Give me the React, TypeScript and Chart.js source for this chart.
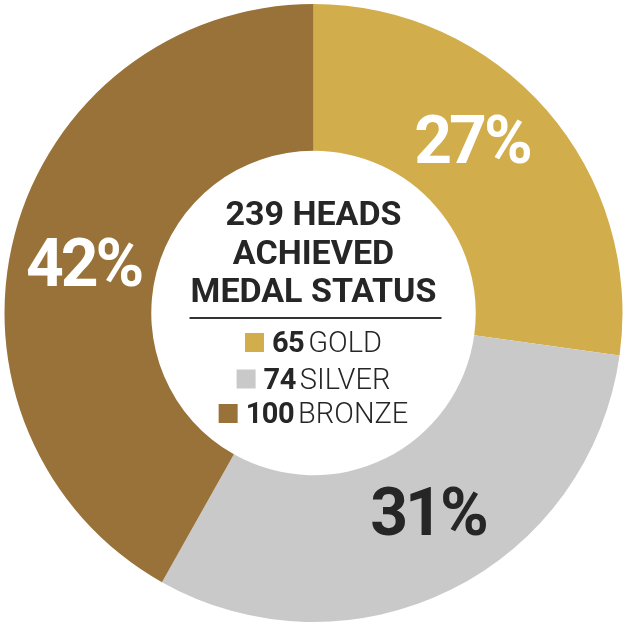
import React, { useEffect, useRef } from "react";
import { Chart, registerables } from "chart.js";

Chart.register(...registerables);

// Medal counts
const categories = ["GOLD", "SILVER", "BRONZE"];
const medalCounts = [65, 74, 100];
const percentLabels = ["27%", "31%", "42%"];
const headingLines = ["239 HEADS", "ACHIEVED", "MEDAL STATUS"];

// Styling
const sliceColors = ["#D2AD4B", "#C9C9C9", "#987239"];
const percentColors = ["#FFFFFF", "#262626", "#FFFFFF"];
// small angular (degrees) / radial nudges for the percentage labels
const labelAngleNudge = [-6.7, -3.7, -2];
const labelRadiusNudge = [0, -7, 0];

const TEXT_DARK = "#262626";

const centerTextPlugin = {
  id: "centerText",
  afterDatasetsDraw(chart: any) {
    const ctx: CanvasRenderingContext2D = chart.ctx;
    const meta = chart.getDatasetMeta(0);
    const arcs = meta.data;
    if (!arcs.length) return;
    const cx = arcs[0].x;
    const cy = arcs[0].y;

    ctx.save();
    // percentage labels inside the ring
    arcs.forEach((arc: any, i: number) => {
      const mid = (arc.startAngle + arc.endAngle) / 2 + (labelAngleNudge[i] * Math.PI) / 180;
      const r = (arc.innerRadius + arc.outerRadius) / 2 + labelRadiusNudge[i];
      const x = arc.x + Math.cos(mid) * r;
      const y = arc.y + Math.sin(mid) * r;
      ctx.font = "bold 66px Roboto";
      (ctx as any).letterSpacing = "-3px";
      ctx.fillStyle = percentColors[i];
      ctx.textAlign = "center";
      ctx.textBaseline = "alphabetic";
      const m = ctx.measureText(percentLabels[i]);
      const h = m.actualBoundingBoxAscent;
      ctx.fillText(percentLabels[i], x, y + h / 2);
    });

    // heading
    (ctx as any).letterSpacing = "0px";
    ctx.font = "bold 34px Roboto";
    ctx.fillStyle = TEXT_DARK;
    ctx.textAlign = "center";
    const baselines = [-88, -49.5, -11];
    headingLines.forEach((t, i) => ctx.fillText(t, cx, cy + baselines[i]));

    // rule
    ctx.strokeStyle = "#333333";
    ctx.lineWidth = 2;
    ctx.beginPath();
    ctx.moveTo(cx - 124, cy + 5);
    ctx.lineTo(cx + 128, cy + 5);
    ctx.stroke();

    // legend rows
    const rowBase = [39, 75.5, 110];
    const sq = 19;
    const numFont = "bold 29px Roboto";
    const wordFont = "300 29px Roboto";
    categories.forEach((cat, i) => {
      const num = String(medalCounts[i]);
      ctx.font = numFont;
      (ctx as any).letterSpacing = "-0.5px";
      const nw = ctx.measureText(num).width;
      ctx.font = wordFont;
      (ctx as any).letterSpacing = "0px";
      const ww = ctx.measureText(cat).width;
      const total = sq + 8 + nw + 4 + ww;
      let x = cx - total / 2;
      const by = cy + rowBase[i];
      ctx.fillStyle = sliceColors[i];
      ctx.fillRect(x, by - sq, sq, sq);
      x += sq + 8;
      ctx.textAlign = "left";
      ctx.fillStyle = TEXT_DARK;
      ctx.font = numFont;
      (ctx as any).letterSpacing = "-0.5px";
      ctx.fillText(num, x, by);
      x += nw + 4;
      ctx.font = wordFont;
      (ctx as any).letterSpacing = "0px";
      ctx.fillText(cat, x, by);
    });
    ctx.restore();
  },
};

export default function App() {
  const canvasRef = useRef<HTMLCanvasElement | null>(null);

  useEffect(() => {
    if (!canvasRef.current) return;
    const chart = new Chart(canvasRef.current, {
      type: "doughnut",
      data: {
        labels: categories,
        datasets: [
          {
            data: medalCounts,
            backgroundColor: sliceColors,
            borderWidth: 0,
          },
        ],
      },
      options: {
        responsive: false,
        animation: false,
        cutout: "52.5%",
        layout: { padding: { left: 3, right: 6, top: 4, bottom: 8 } },
        plugins: {
          legend: { display: false },
          tooltip: { enabled: false },
        },
      },
      plugins: [centerTextPlugin],
    });
    return () => chart.destroy();
  }, []);

  return (
    <div style={{ position: "absolute", left: 0, top: 0, width: 630, height: 630, background: "#fff" }}>
      <canvas ref={canvasRef} width={630} height={630} style={{ display: "block" }} />
    </div>
  );
}
